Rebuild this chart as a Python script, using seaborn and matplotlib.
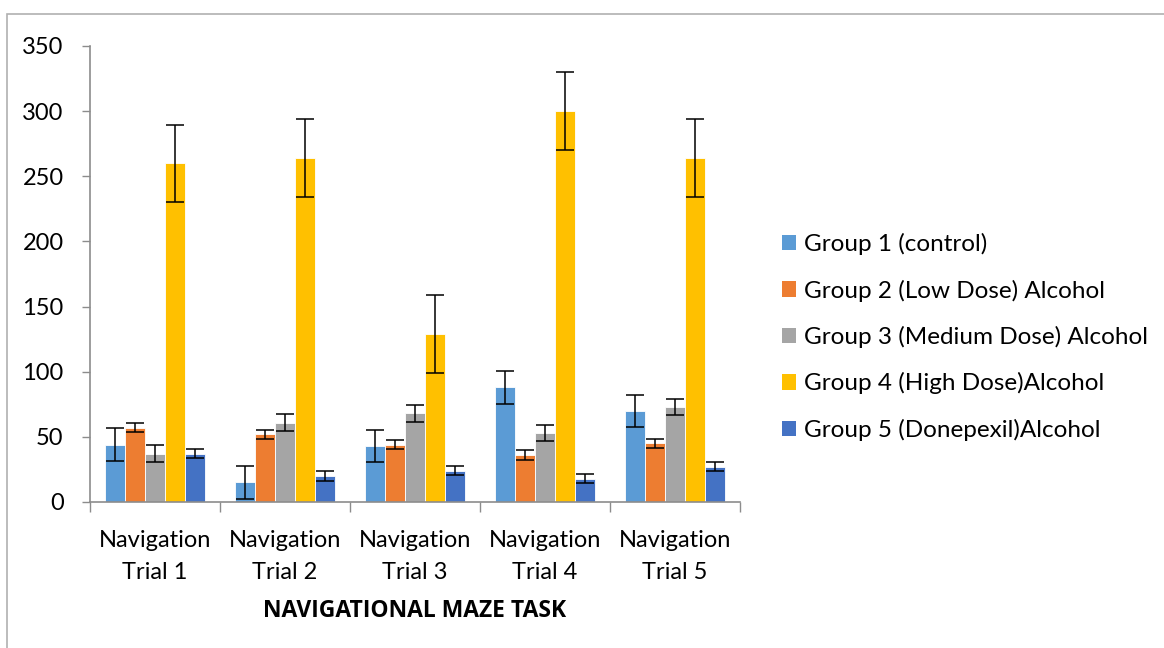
import numpy as np
import pandas as pd
import seaborn as sns
import matplotlib.pyplot as plt
from matplotlib.patches import Patch, Rectangle

# valores
trials = ["Navigation\nTrial 1", "Navigation\nTrial 2", "Navigation\nTrial 3",
          "Navigation\nTrial 4", "Navigation\nTrial 5"]
groups = ["Group 1 (control)", "Group 2 (Low Dose) Alcohol",
          "Group 3 (Medium Dose) Alcohol", "Group 4 (High Dose)Alcohol",
          "Group 5 (Donepexil)Alcohol"]

g1 = [44, 15, 43, 88, 70]
g2 = [57, 52, 44, 36, 45]
g3 = [37, 61, 68, 53, 73]
g4 = [260, 264, 129, 300, 264]
g5 = [37, 20, 24, 18, 27]

g1_err = [12.5, 12.5, 12.5, 12.5, 12.5]
g2_err = [3.6, 3.6, 3.6, 3.6, 3.6]
g3_err = [6.4, 6.4, 6.4, 6.4, 6.4]
g4_err = [29.7, 29.7, 29.7, 29.7, 29.7]
g5_err = [3.5, 3.5, 3.5, 3.5, 3.5]

colores = ["#5B9BD5", "#ED7D31", "#A5A5A5", "#FFC000", "#4472C4"]

valores = [g1, g2, g3, g4, g5]
errores = [g1_err, g2_err, g3_err, g4_err, g5_err]

datos = pd.DataFrame({
    "trial": np.tile(trials, len(groups)),
    "group": np.repeat(groups, len(trials)),
    "value": np.concatenate(valores),
    "err": np.concatenate(errores),
})

plt.rcParams["font.family"] = ["Lato", "DejaVu Sans"]

fig = plt.figure(figsize=(11.64, 6.48), dpi=100)
ax = fig.add_axes([90 / 1164, 1 - 502 / 648, 650 / 1164, 456 / 648])

sns.barplot(
    data=datos, x="trial", y="value", hue="group",
    order=trials, hue_order=groups, palette=colores, saturation=1,
    errorbar=None, width=0.77, edgecolor="white", linewidth=0.6,
    legend=False, ax=ax
)

# barras de error sobre el centro de cada barra
for i, grupo in enumerate(groups):
    sub = datos[datos["group"] == grupo].set_index("trial").loc[trials]
    barras = ax.containers[i]
    xs = [b.get_x() + b.get_width() / 2 for b in barras]
    ax.errorbar(xs, sub["value"], yerr=sub["err"], fmt="none",
                ecolor="black", elinewidth=1.1, capsize=6.5, capthick=1.1)

ax.set_ylim(0, 350)
ax.set_yticks(range(0, 351, 50))
ax.set_xlim(-0.5, 4.5)
ax.set_xticks(range(len(trials)))
ax.set_xticklabels(trials, fontsize=17, linespacing=1.65)
ax.set_xticks(np.arange(-0.5, 4.6, 1), minor=True)
ax.tick_params(axis="x", which="major", length=0, pad=20)
ax.tick_params(axis="x", which="minor", length=7, color="#8c8c8c", width=1)
ax.tick_params(axis="y", length=6, color="#8c8c8c", width=1, labelsize=17, pad=13)

for lado in ["top", "right"]:
    ax.spines[lado].set_visible(False)
for lado in ["left", "bottom"]:
    ax.spines[lado].set_color("#8c8c8c")
    ax.spines[lado].set_linewidth(1.2)

ax.set_xlabel("NAVIGATIONAL MAZE TASK", fontsize=16.5, fontweight="bold",
              family=["Open Sans", "DejaVu Sans"], labelpad=12)
ax.set_ylabel("")

handles = [Patch(facecolor=c, edgecolor="none") for c in colores]
fig.legend(handles, groups, loc="center left", bbox_to_anchor=(760 / 1164, 1 - 337 / 648),
           frameon=False, fontsize=17.5, handlelength=0.6, handleheight=0.6,
           handletextpad=0.3, labelspacing=1.0)

# borde del área del gráfico
fig.patches.append(Rectangle((7 / 1164, -0.05), 1.2, 1 - 14 / 648 + 0.05,
                             transform=fig.transFigure, fill=False,
                             edgecolor="#b0b0b0", linewidth=1.2))

fig.savefig("out.png", dpi=100)
